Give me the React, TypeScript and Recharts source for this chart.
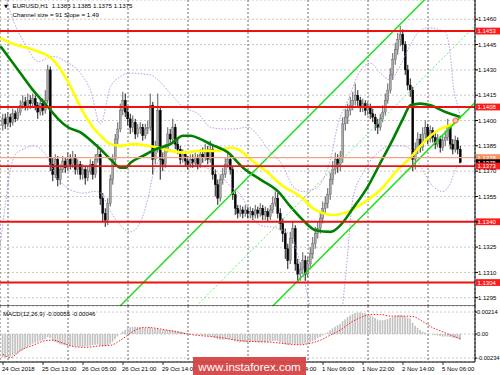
import React from 'react';
import { ComposedChart, Bar, Line, XAxis, YAxis, CartesianGrid, ReferenceLine, ReferenceDot } from 'recharts';

const FONT = 'Liberation Sans, Arial, sans-serif';

// ---------- data ----------
const firstOpen = 1.1397;
const closes = [
  1.1401,1.1398,1.1402,1.1399,1.1404,1.1401,1.1405,1.1409,1.1411,1.1408,
  1.1412,1.1410,1.1413,1.1409,1.1405,1.1410,1.1406,1.1412,1.1430,1.1374,
  1.1368,1.1377,1.1365,1.1371,1.1376,1.1372,1.1377,1.1374,1.1378,1.1371,
  1.1374,1.1368,1.1371,1.1366,1.1370,1.1374,1.1368,1.1377,1.1380,1.1354,
  1.1345,1.1341,1.1351,1.1365,1.1377,1.1389,1.1395,1.1406,1.1412,1.1405,
  1.1401,1.1396,1.1399,1.1392,1.1395,1.1396,1.1391,1.1395,1.1396,1.1409,
  1.1377,1.1383,1.1406,1.1377,1.1374,1.1383,1.1392,1.1389,1.1396,1.1386,
  1.1383,1.1377,1.1380,1.1376,1.1374,1.1377,1.1375,1.1378,1.1374,1.1380,
  1.1378,1.1382,1.1377,1.1383,1.1368,1.1362,1.1354,1.1365,1.1368,1.1374,
  1.1377,1.1371,1.1356,1.1348,1.1345,1.1347,1.1345,1.1347,1.1345,1.1346,
  1.1344,1.1347,1.1345,1.1348,1.1344,1.1346,1.1343,1.1347,1.1351,1.1354,
  1.1345,1.1339,1.1333,1.1324,1.1317,1.1330,1.1336,1.1315,1.1309,1.1312,
  1.1317,1.1309,1.1315,1.1321,1.1327,1.1333,1.1336,1.1342,1.1348,1.1351,
  1.1356,1.1365,1.1371,1.1377,1.1374,1.1378,1.1398,1.1402,1.1406,1.1409,
  1.1412,1.1415,1.1412,1.1408,1.1410,1.1406,1.1408,1.1404,1.1402,1.1398,
  1.1396,1.1401,1.1405,1.1412,1.1418,1.1427,1.1436,1.1442,1.1448,1.1451,
  1.1445,1.1430,1.1421,1.1418,1.1377,1.1383,1.1389,1.1384,1.1392,1.1396,
  1.1389,1.1394,1.1390,1.1386,1.1389,1.1384,1.1388,1.1390,1.1396,1.1386,
  1.1383,1.1388,1.1383,1.1375,
];
const highs = [
  1.1404,1.1404,1.1405,1.1404,1.1407,1.1406,1.1408,1.1412,1.1415,1.1414,
  1.1416,1.1415,1.1416,1.1415,1.1411,1.1413,1.1413,1.1418,1.1433,1.1432,
  1.1378,1.1380,1.1379,1.1374,1.1379,1.1378,1.1381,1.1380,1.1382,1.1380,
  1.1377,1.1376,1.1374,1.1373,1.1373,1.1377,1.1376,1.1380,1.1386,1.1382,
  1.1357,1.1348,1.1354,1.1368,1.1380,1.1392,1.1399,1.1410,1.1417,1.1416,
  1.1408,1.1404,1.1403,1.1401,1.1398,1.1399,1.1398,1.1398,1.1400,1.1416,
  1.1411,1.1388,1.1416,1.1408,1.1381,1.1386,1.1396,1.1395,1.1401,1.1398,
  1.1389,1.1385,1.1383,1.1382,1.1379,1.1380,1.1380,1.1381,1.1380,1.1383,
  1.1384,1.1386,1.1385,1.1388,1.1385,1.1371,1.1365,1.1368,1.1372,1.1378,
  1.1382,1.1379,1.1373,1.1358,1.1350,1.1350,1.1349,1.1350,1.1349,1.1349,
  1.1348,1.1350,1.1349,1.1351,1.1350,1.1349,1.1348,1.1350,1.1355,1.1358,
  1.1357,1.1348,1.1342,1.1336,1.1327,1.1334,1.1340,1.1338,1.1318,1.1316,
  1.1322,1.1320,1.1319,1.1325,1.1331,1.1337,1.1340,1.1346,1.1352,1.1355,
  1.1360,1.1369,1.1376,1.1381,1.1380,1.1382,1.1402,1.1407,1.1410,1.1414,
  1.1417,1.1422,1.1418,1.1414,1.1413,1.1412,1.1411,1.1410,1.1407,1.1404,
  1.1401,1.1404,1.1409,1.1416,1.1422,1.1431,1.1440,1.1446,1.1452,1.1456,
  1.1454,1.1447,1.1433,1.1425,1.1420,1.1387,1.1393,1.1392,1.1396,1.1400,
  1.1398,1.1397,1.1396,1.1393,1.1392,1.1391,1.1391,1.1394,1.1401,1.1398,
  1.1389,1.1391,1.1390,1.1385,
];
const lows = [
  1.1394,1.1395,1.1396,1.1396,1.1397,1.1399,1.1400,1.1403,1.1407,1.1406,
  1.1406,1.1407,1.1408,1.1406,1.1401,1.1403,1.1403,1.1404,1.1410,1.1370,
  1.1364,1.1366,1.1361,1.1362,1.1369,1.1369,1.1370,1.1371,1.1372,1.1368,
  1.1368,1.1365,1.1365,1.1362,1.1364,1.1368,1.1365,1.1366,1.1375,1.1350,
  1.1340,1.1337,1.1338,1.1349,1.1362,1.1375,1.1386,1.1393,1.1403,1.1402,
  1.1397,1.1392,1.1393,1.1389,1.1390,1.1392,1.1388,1.1389,1.1392,1.1394,
  1.1368,1.1374,1.1381,1.1365,1.1370,1.1372,1.1381,1.1386,1.1387,1.1383,
  1.1380,1.1374,1.1375,1.1373,1.1371,1.1372,1.1372,1.1373,1.1371,1.1372,
  1.1375,1.1376,1.1374,1.1375,1.1365,1.1355,1.1350,1.1352,1.1362,1.1366,
  1.1372,1.1368,1.1353,1.1344,1.1342,1.1343,1.1342,1.1343,1.1342,1.1342,
  1.1341,1.1342,1.1342,1.1343,1.1341,1.1341,1.1340,1.1341,1.1345,1.1349,
  1.1342,1.1335,1.1328,1.1318,1.1312,1.1315,1.1327,1.1311,1.1304,1.1305,
  1.1309,1.1305,1.1307,1.1312,1.1318,1.1324,1.1330,1.1333,1.1339,1.1345,
  1.1348,1.1353,1.1362,1.1368,1.1369,1.1370,1.1375,1.1394,1.1398,1.1403,
  1.1406,1.1409,1.1408,1.1405,1.1405,1.1403,1.1403,1.1401,1.1399,1.1394,
  1.1392,1.1394,1.1399,1.1403,1.1410,1.1416,1.1424,1.1433,1.1439,1.1444,
  1.1441,1.1427,1.1418,1.1414,1.1370,1.1371,1.1380,1.1381,1.1382,1.1389,
  1.1386,1.1387,1.1387,1.1383,1.1384,1.1381,1.1382,1.1385,1.1388,1.1383,
  1.1380,1.1381,1.1380,1.1375,
];
const macdHist = [
  -0.00230,-0.00230,-0.00225,-0.00220,-0.00210,-0.00200,-0.00190,-0.00170,-0.00155,-0.00140,
  -0.00125,-0.00110,-0.00095,-0.00085,-0.00075,-0.00065,-0.00060,-0.00050,-0.00030,-0.00040,
  -0.00060,-0.00075,-0.00090,-0.00100,-0.00105,-0.00110,-0.00115,-0.00120,-0.00120,-0.00120,
  -0.00125,-0.00125,-0.00125,-0.00120,-0.00120,-0.00115,-0.00110,-0.00105,-0.00100,-0.00110,
  -0.00120,-0.00120,-0.00110,-0.00095,-0.00075,-0.00050,-0.00025,0.00000,0.00025,0.00040,
  0.00055,0.00065,0.00070,0.00070,0.00070,0.00065,0.00065,0.00060,0.00060,0.00065,
  0.00055,0.00050,0.00055,0.00045,0.00040,0.00040,0.00040,0.00040,0.00040,0.00035,
  0.00030,0.00025,0.00020,0.00015,0.00010,0.00005,0.00000,-0.00005,-0.00010,-0.00010,
  -0.00015,-0.00015,-0.00020,-0.00020,-0.00030,-0.00040,-0.00050,-0.00055,-0.00055,-0.00050,
  -0.00050,-0.00050,-0.00060,-0.00070,-0.00075,-0.00080,-0.00080,-0.00080,-0.00080,-0.00080,
  -0.00080,-0.00080,-0.00080,-0.00080,-0.00080,-0.00080,-0.00080,-0.00075,-0.00070,-0.00065,
  -0.00070,-0.00080,-0.00090,-0.00100,-0.00105,-0.00100,-0.00095,-0.00100,-0.00105,-0.00105,
  -0.00100,-0.00095,-0.00090,-0.00080,-0.00070,-0.00055,-0.00040,-0.00030,-0.00015,0.00000,
  0.00015,0.00035,0.00055,0.00070,0.00085,0.00100,0.00125,0.00145,0.00165,0.00180,
  0.00195,0.00205,0.00210,0.00210,0.00205,0.00200,0.00190,0.00180,0.00170,0.00155,
  0.00140,0.00135,0.00135,0.00140,0.00145,0.00155,0.00165,0.00175,0.00180,0.00185,
  0.00180,0.00170,0.00160,0.00150,0.00110,0.00080,0.00060,0.00040,0.00025,0.00015,
  0.00005,0.00000,-0.00005,-0.00010,-0.00015,-0.00020,-0.00025,-0.00025,-0.00025,-0.00030,
  -0.00035,-0.00040,-0.00045,-0.00055,
];
const macdSignal: [number, number][] = [
  [0,-0.00200],[3,-0.00230],[7,-0.00160],[12,-0.00110],[17,-0.00065],[20,-0.00060],[24,-0.00090],
  [29,-0.00125],[33,-0.00130],[39,-0.00115],[43,-0.00110],[47,-0.00060],[50,-0.00010],[53,0.00040],
  [57,0.00065],[65,0.00040],[75,-0.00005],[87,-0.00035],[95,-0.00065],[107,-0.00080],[119,-0.00105],
  [123,-0.00090],[127,-0.00060],[131,-0.00010],[135,0.00040],[139,0.00110],[143,0.00160],[147,0.00190],
  [151,0.00190],[155,0.00175],[159,0.00175],[164,0.00170],[168,0.00120],[172,0.00060],[176,0.00020],
  [179,-0.00010],[183,-0.00046],
];
const yellowMA: [number, number][] = [
  [-1,1.1449],[3,1.1446],[12,1.1442],[20,1.1436],[26,1.1423],[31,1.1408],[35,1.1398],[39,1.1391],
  [43,1.1386],[47,1.1385],[52,1.1386],[58,1.1385],[62,1.1384],[67,1.1382],[72,1.1381],[79,1.1382],
  [86,1.1382],[91,1.1384],[95,1.1382],[99,1.1377],[106,1.1369],[112,1.1361],[119,1.1355],[124,1.1348],
  [128,1.1345],[132,1.1344],[138,1.1346],[144,1.1351],[151,1.1359],[158,1.1371],[163,1.1378],
  [167,1.1385],[171,1.1391],[175,1.1395],[181,1.1399],[183,1.1402],
];
const greenMA: [number, number][] = [
  [-1,1.1444],[3,1.1436],[7,1.1428],[12,1.1418],[18,1.1408],[22,1.1401],[26,1.1396],[31,1.1393],
  [36,1.1387],[39,1.1383],[43,1.1377],[47,1.1372],[49,1.1372],[51,1.1375],[56,1.1379],[61,1.1383],
  [67,1.1386],[72,1.1391],[75,1.1391],[79,1.1389],[83,1.1386],[90,1.1381],[96,1.1372],[103,1.1365],
  [110,1.1358],[115,1.1349],[120,1.1341],[125,1.1335],[131,1.1334],[135,1.1338],[140,1.1348],
  [146,1.1361],[151,1.1375],[156,1.1389],[160,1.1401],[163,1.1409],[167,1.1410],[171,1.1409],
  [177,1.1405],[183,1.1402],
];
const upperBand: [number, number][] = [
  [-1,1.1480],[2,1.1468],[5,1.1456],[9,1.1445],[14,1.1435],[20,1.1438],[25,1.1435],[31,1.1428],
  [35,1.1418],[39,1.1398],[43,1.1420],[47,1.1426],[51,1.1428],[59,1.1427],[62,1.1424],[67,1.1416],
  [72,1.1408],[78,1.1404],[83,1.1396],[88,1.1395],[92,1.1395],[98,1.1396],[102,1.1391],[106,1.1383],
  [112,1.1373],[116,1.1361],[120,1.1358],[124,1.1359],[128,1.1365],[131,1.1377],[134,1.1398],
  [138,1.1412],[142,1.1427],[147,1.1434],[151,1.1428],[155,1.1424],[158,1.1430],[162,1.1442],
  [166,1.1452],[170,1.1455],[174,1.1454],[177,1.1452],[179,1.1438],[180,1.1422],[182,1.1408],[183,1.1402],
];
const lowerBand: [number, number][] = [
  [-1,1.1327],[1,1.1351],[3,1.1371],[5,1.1380],[8,1.1383],[12,1.1385],[17,1.1380],[19,1.1374],
  [21,1.1368],[27,1.1359],[32,1.1357],[37,1.1358],[39,1.1357],[43,1.1346],[47,1.1338],[51,1.1334],
  [55,1.1340],[58,1.1354],[60,1.1368],[63,1.1378],[66,1.1383],[70,1.1381],[74,1.1377],[79,1.1373],
  [86,1.1369],[91,1.1361],[96,1.1354],[99,1.1344],[103,1.1338],[110,1.1336],[115,1.1332],[118,1.1320],
  [120,1.1309],[122,1.1295],[124,1.1283],[130,1.1271],[135,1.1283],[137,1.1307],[140,1.1354],
  [144,1.1369],[150,1.1381],[155,1.1385],[160,1.1385],[164,1.1381],[167,1.1373],[172,1.1361],
  [176,1.1358],[179,1.1363],[181,1.1371],[183,1.1375],
];
// channel endpoints (bar index, price)
const channelUpper: [number, number][] = [[40, 1.12799], [190, 1.15034]];
const channelMiddle: [number, number][] = [[40, 1.12344], [190, 1.14579]];
const channelLower: [number, number][] = [[40, 1.11889], [190, 1.14124]];

const priceTicks = [1.1295, 1.1310, 1.1325, 1.1340, 1.1355, 1.1370, 1.1385, 1.1400, 1.1415, 1.1430, 1.1445, 1.1460];
const macdTicks = [0.00214, 0, -0.00234];
const timeTickIdx = [0, 16, 32, 48, 64, 80, 96, 112, 128, 144, 160, 176];
const timeLabels = ['24 Oct 2018', '25 Oct 13:00', '26 Oct 05:00', '26 Oct 21:00', '29 Oct 14:00', '30 Oct 06:00',
  '30 Oct 22:00', '31 Oct 14:00', '1 Nov 06:00', '1 Nov 22:00', '2 Nov 14:00', '5 Nov 06:00'];
const gridIdx = [2, 26, 50, 74, 98, 122, 146, 170];
const redLevels = [1.1453, 1.1408, 1.1340, 1.1304];
const level1373 = 1.1373;
const orangeLevel = 1.1378;
const bidPrice = 1.1375;
const alertPoint: [number, number] = [181, 1.1400];

const X_DOMAIN: [number, number] = [-1.2, 188.8];
const P_DOMAIN: [number, number] = [1.12901, 1.14714];
const M_DOMAIN: [number, number] = [-0.00273, 0.00273];

const bars = closes.map((c, i) => ({
  i,
  o: i === 0 ? firstOpen : closes[i - 1],
  h: highs[i],
  l: lows[i],
  c,
  range: [lows[i], highs[i]],
  m: macdHist[i],
}));
const toPts = (arr: [number, number][]) => arr.map(([i, v]) => ({ i, v }));

// ---------- shapes ----------
function Candle(props: any) {
  const { x, y, width, height, payload } = props;
  if (!payload || !isFinite(x) || !isFinite(y)) return <g />;
  const { o, h, l, c } = payload;
  const k = h > l ? height / (h - l) : 0;
  const yO = y + (h - Math.min(h, Math.max(l, o))) * k;
  const yC = y + (h - Math.min(h, Math.max(l, c))) * k;
  const cx = x + width / 2;
  const up = c >= o;
  const top = Math.min(yO, yC);
  const bh = Math.max(Math.abs(yC - yO), 0.9);
  return (
    <g>
      <line x1={cx} x2={cx} y1={y} y2={y + height} stroke={up ? '#4a4a4a' : '#000'} strokeWidth={0.9} />
      <rect x={cx - 1} y={top} width={2} height={bh} fill={up ? '#a8a8a8' : '#000'} stroke={up ? '#5a5a5a' : '#000'} strokeWidth={0.4} />
    </g>
  );
}

function PriceTag(props: any) {
  const { viewBox, text, bg, fg } = props;
  if (!viewBox) return null;
  const left = viewBox.x + viewBox.width + 1;
  const y = viewBox.y;
  return (
    <g>
      <rect x={left} y={y - 3.4} width={24} height={6.8} fill={bg} />
      <text x={left + 1.5} y={y + 2.2} fontSize={6} fontFamily={FONT} fill={fg}>{text}</text>
    </g>
  );
}

// price-axis tick; a tick hidden behind a level tag is not drawn
function PriceTick(props: any) {
  const { x, y, payload } = props;
  const covered = redLevels.some((v) => Math.abs(v - payload.value) < 0.00005);
  if (covered) return <g />;
  return (
    <text x={x} y={y + 2.1} fontSize={6} fontFamily={FONT} fill="#000" textAnchor="start">
      {Number(payload.value).toFixed(4)}
    </text>
  );
}

function MacdTick(props: any) {
  const { x, y, payload } = props;
  const v = Number(payload.value);
  return (
    <text x={x} y={y + 2.1} fontSize={5.7} fontFamily={FONT} fill="#000" textAnchor="start">
      {v === 0 ? '0.00' : v.toFixed(5)}
    </text>
  );
}

function TimeTick(props: any) {
  const { x, y, payload } = props;
  const idx = timeTickIdx.indexOf(payload.value);
  return (
    <g>
      <line x1={x} x2={x} y1={y} y2={y + 3} stroke="#000" strokeWidth={0.8} />
      <text x={x - 1} y={y + 8.5} fontSize={6} fontFamily={FONT} fill="#000" textAnchor="start">{timeLabels[idx]}</text>
    </g>
  );
}

const bandProps = { stroke: '#c596e8', strokeWidth: 1, strokeDasharray: '1.5 1.5', dot: false, activeDot: false, isAnimationActive: false, type: 'monotone' as const };

export default function App() {
  return (
    <div style={{ position: 'absolute', left: 0, top: 0, width: 500, height: 375, background: '#fff', overflow: 'hidden' }}>
      <div style={{ position: 'absolute', left: 0, top: 0 }}>
        <ComposedChart width={500} height={306} data={bars} margin={{ top: 0, right: 0, bottom: 0, left: 0 }}>
          <XAxis type="number" dataKey="i" domain={X_DOMAIN} ticks={gridIdx} hide allowDataOverflow />
          <YAxis orientation="right" type="number" domain={P_DOMAIN} ticks={priceTicks} width={25} allowDataOverflow
            interval={0} tick={(p: any) => <PriceTick {...p} />} tickSize={3} tickMargin={0}
            axisLine={{ stroke: '#000' }} tickLine={{ stroke: '#000' }} />
          <CartesianGrid vertical={false} stroke="#c8c8c8" strokeDasharray="2 2" />
          <CartesianGrid horizontal={false} stroke="#6a6a6a" strokeDasharray="2 2" />
          <Line data={toPts(upperBand)} dataKey="v" {...bandProps} />
          <Line data={toPts(lowerBand)} dataKey="v" {...bandProps} />
          <Bar dataKey="range" barSize={2} shape={(p: any) => <Candle {...p} />} isAnimationActive={false} />
          <Line data={toPts(yellowMA)} dataKey="v" type="monotone" stroke="#ffff00" strokeWidth={2.6} dot={false} activeDot={false} isAnimationActive={false} />
          <Line data={toPts(greenMA)} dataKey="v" type="monotone" stroke="#008000" strokeWidth={2.6} dot={false} activeDot={false} isAnimationActive={false} />
          <ReferenceLine segment={channelUpper.map(([x, y]) => ({ x, y }))} stroke="#22dd22" strokeWidth={1.5} ifOverflow="hidden" />
          <ReferenceLine segment={channelLower.map(([x, y]) => ({ x, y }))} stroke="#22dd22" strokeWidth={1.5} ifOverflow="hidden" />
          <ReferenceLine segment={channelMiddle.map(([x, y]) => ({ x, y }))} stroke="#66ee66" strokeWidth={1} strokeDasharray="2 2" ifOverflow="hidden" />
          <ReferenceLine y={orangeLevel} stroke="#f6a07e" strokeWidth={1.2}
            label={<PriceTag text={orangeLevel.toFixed(4)} bg="#f7905e" fg="#fff" />} />
          <ReferenceLine y={bidPrice} stroke="none" strokeOpacity={0}
            label={<PriceTag text={bidPrice.toFixed(4)} bg="#000" fg="#fff" />} />
          <ReferenceLine y={level1373} stroke="#ee1111" strokeWidth={1.6}
            label={<PriceTag text={level1373.toFixed(4)} bg="#ff1a1a" fg="#fff" />} />
          {redLevels.map((v) => (
            <ReferenceLine key={v} y={v} stroke="#ee1111" strokeWidth={2}
              label={<PriceTag text={v.toFixed(4)} bg="#ff1a1a" fg="#fff" />} />
          ))}
          <ReferenceDot x={alertPoint[0]} y={alertPoint[1]} r={2.5} fill="#ffc4c4" stroke="#ff5a5a" strokeWidth={1} />
          <ReferenceLine y={P_DOMAIN[0]} stroke="#000" strokeWidth={1.2} />
        </ComposedChart>
      </div>
      <div style={{ position: 'absolute', left: 0, top: 306 }}>
        <ComposedChart width={500} height={69} data={bars} margin={{ top: 0, right: 0, bottom: 0, left: 0 }}>
          <XAxis type="number" dataKey="i" domain={X_DOMAIN} ticks={timeTickIdx} interval={0} allowDataOverflow
            height={13} tickSize={0} tickMargin={0} tickLine={false} axisLine={{ stroke: '#000' }} tick={(p: any) => <TimeTick {...p} />} />
          <XAxis xAxisId="grid" type="number" dataKey="i" domain={X_DOMAIN} ticks={gridIdx} hide allowDataOverflow />
          <YAxis orientation="right" type="number" domain={M_DOMAIN} ticks={macdTicks} width={25} allowDataOverflow interval={0}
            tick={(p: any) => <MacdTick {...p} />} tickSize={2} tickMargin={0}
            axisLine={{ stroke: '#000' }} tickLine={{ stroke: '#000' }} />
          <CartesianGrid vertical={false} stroke="#c8c8c8" strokeDasharray="2 2" />
          <CartesianGrid xAxisId="grid" horizontal={false} stroke="#6a6a6a" strokeDasharray="2 2" />
          <Bar dataKey="m" barSize={1.6} fill="#c0c0c0" isAnimationActive={false} />
          <Line data={toPts(macdSignal)} dataKey="v" type="monotone" stroke="#ff2020" strokeWidth={1} strokeDasharray="1.5 1.5" dot={false} activeDot={false} isAnimationActive={false} />
        </ComposedChart>
      </div>
      <svg width={500} height={375} style={{ position: 'absolute', left: 0, top: 0, pointerEvents: 'none' }}>
        <text x={4} y={8.3} fontSize={5} fontFamily="DejaVu Sans" fill="#000">▼</text>
        <text x={12.5} y={8.3} fontSize={6.2} fontFamily={FONT} fill="#000" xmlSpace="preserve">EURUSD,H1  1.1383 1.1385 1.1375 1.1375</text>
        <text x={12.5} y={17.3} fontSize={6.2} fontFamily={FONT} fill="#000">Channel size = 91 Slope = 1.49</text>
        <text x={3} y={315.5} fontSize={6} fontFamily={FONT} fill="#000">MACD(12,26,9) -0.00055 -0.00046</text>
        <rect x={193} y={357} width={113} height={18} fill="#d64343" fillOpacity={0.95} />
        <text x={249.5} y={370.5} fontSize={11.5} fontFamily={FONT} fill="#fff" textAnchor="middle">www.instaforex.com</text>
      </svg>
    </div>
  );
}
